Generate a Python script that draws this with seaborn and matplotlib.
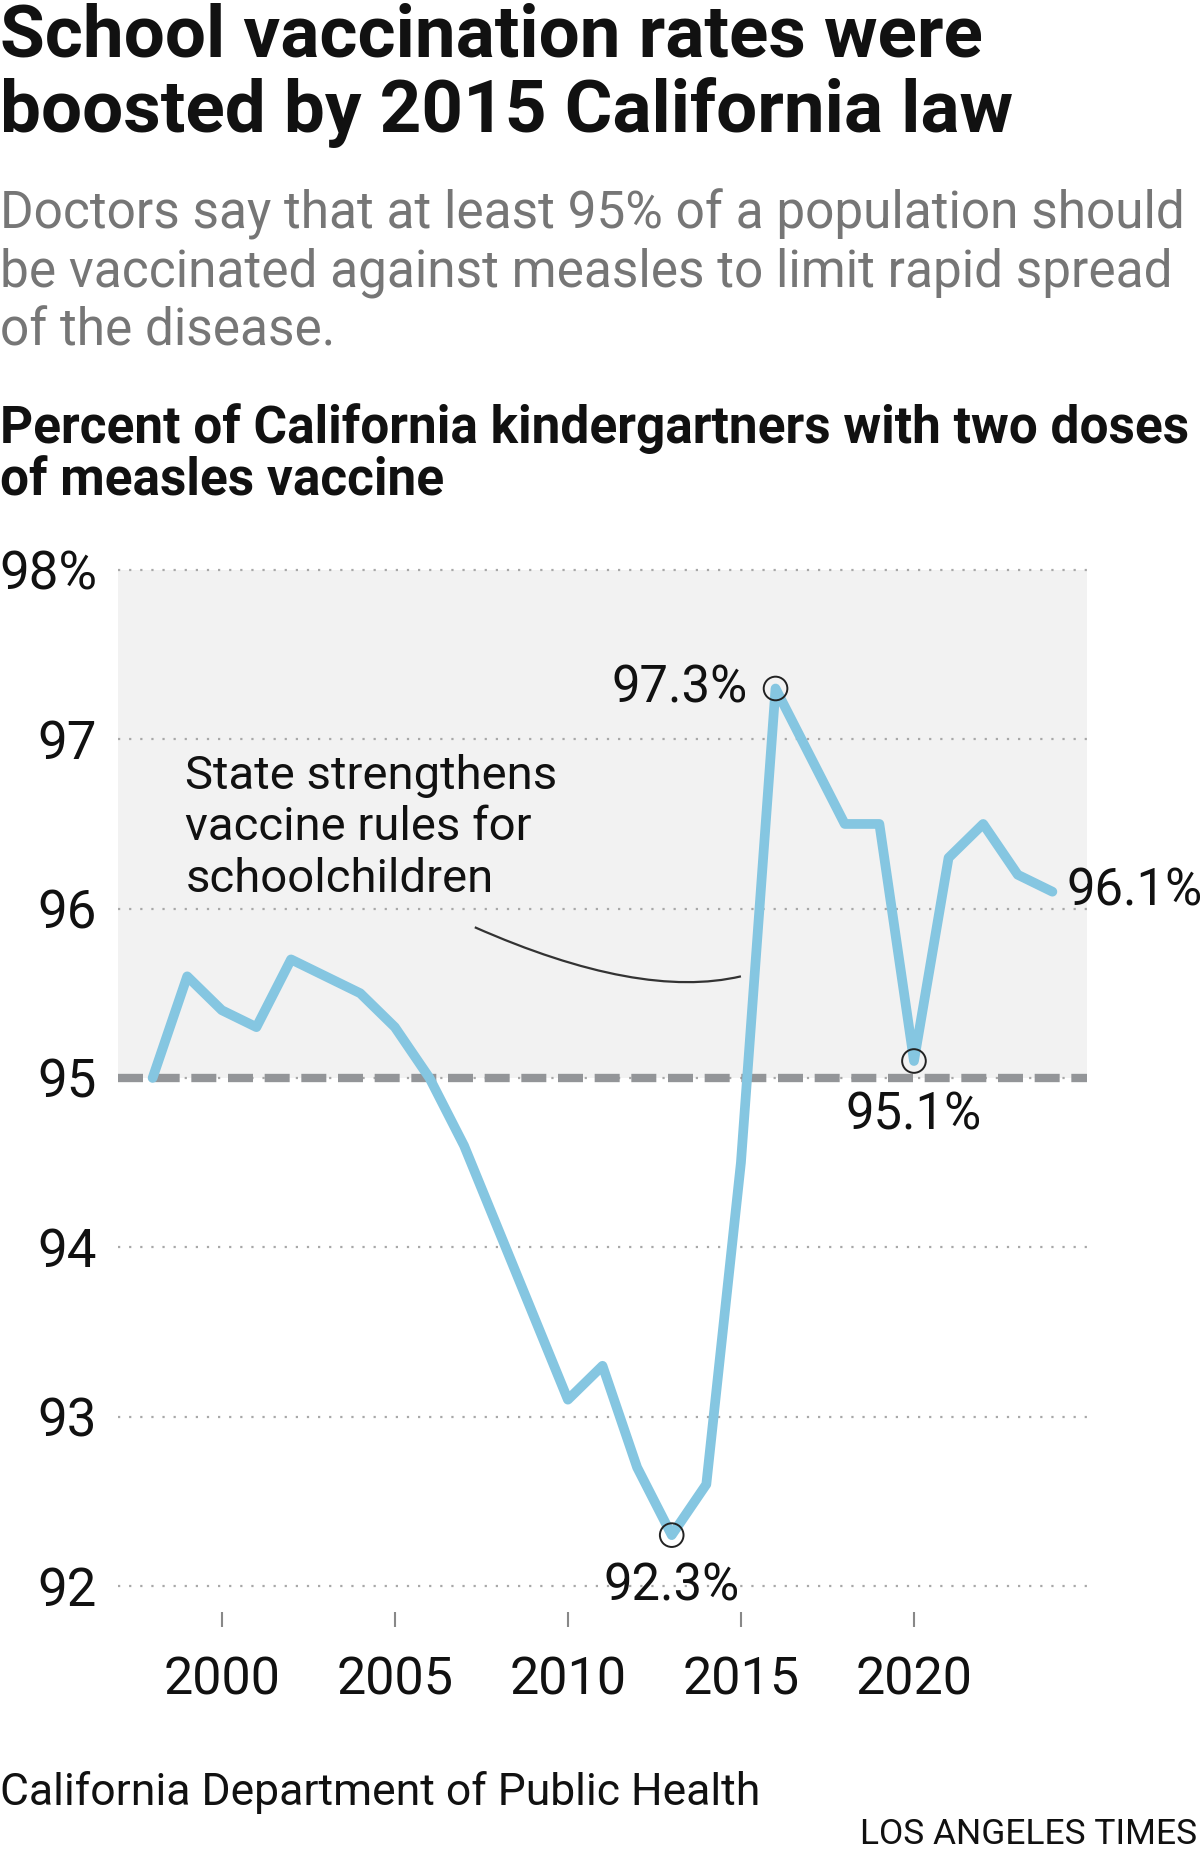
import numpy as np
import pandas as pd
import matplotlib
matplotlib.use("Agg")
from matplotlib import pyplot as plt
from matplotlib.path import Path
from matplotlib.patches import PathPatch
import seaborn as sns

# data
years = list(range(1998, 2025))
rates = [95.0, 95.6, 95.4, 95.3, 95.7, 95.6, 95.5, 95.3, 95.0, 94.6,
         94.1, 93.6, 93.1, 93.3, 92.7, 92.3, 92.6, 94.5, 97.3, 96.9,
         96.5, 96.5, 95.1, 96.3, 96.5, 96.2, 96.1]
highlight_years = [2013, 2016, 2020]
year_ticks = [2000, 2005, 2010, 2015, 2020]
pct_ticks = [92, 93, 94, 95, 96, 97, 98]
pct_labels = ["92", "93", "94", "95", "96", "97", "98%"]
threshold = 95

df = pd.DataFrame({"year": years, "rate": rates})
hl = df[df["year"].isin(highlight_years)]

sns.set_style("white")
plt.rcParams["font.family"] = ["Roboto", "DejaVu Sans"]

W, H = 1200, 1854
fig = plt.figure(figsize=(W / 100, H / 100), dpi=100)

# axes placed in pixel terms
left, right = 118, 1087
top, bottom = 561.5, 1612
ax = fig.add_axes([left / W, 1 - bottom / H, (right - left) / W, (bottom - top) / H])
ax.set_xlim(1997, 2025)
ax.set_ylim(91.846, 98.05)


def ftext(x, y, s, **kw):
    fig.text(x / W, 1 - y / H, s, **kw)


# shaded band above the 95% line
ax.axhspan(threshold, 98, color="#f2f2f2", lw=0, zorder=0)
ax.set_yticks(pct_ticks)
ax.set_yticklabels(pct_labels)
ax.grid(axis="y", ls=(0, (1, 4)), color="#a8a8a8", lw=1.6, zorder=1)
ax.grid(axis="x", visible=False)
ax.axhline(threshold, color="#939598", lw=6, dashes=(3.0, 1.4), zorder=2)

sns.lineplot(data=df, x="year", y="rate", color="#85c6e1", lw=7, ax=ax, zorder=3)
sns.scatterplot(data=hl, x="year", y="rate", s=290, facecolor="none",
                edgecolor="#222222", linewidth=1.4, ax=ax, zorder=4)

# value labels
lab_kw = dict(fontsize=36.5, color="#111111", textcoords="offset points")
ax.annotate("97.3%", (2016, 97.3), xytext=(-20, 0), ha="right", va="center", **lab_kw)
ax.annotate("95.1%", (2020, 95.1), xytext=(0, -39), ha="center", va="center", **lab_kw)
ax.annotate("92.3%", (2013, 92.3), xytext=(0, -37), ha="center", va="center", **lab_kw)
ax.annotate("96.1%", (2024, 96.1), xytext=(10, 0), ha="left", va="center", **lab_kw)

# note and its curved leader line
ax.text(1998.95, 96.48, "State strengthens\nvaccine rules for\nschoolchildren",
        fontsize=34, color="#111111", va="center", ha="left", linespacing=1.22)
curve = Path([(2007.31, 95.89), (2012.08, 95.46), (2015.0, 95.60)],
             [Path.MOVETO, Path.CURVE3, Path.CURVE3])
ax.add_patch(PathPatch(curve, fc="none", ec="#333333", lw=1.6, zorder=5))

ax.set_xticks(year_ticks)
ax.set_xlabel("")
ax.set_ylabel("")
ax.tick_params(axis="x", bottom=True, length=11, width=1.5, color="#888888",
               direction="out", pad=20, labelsize=37.5, labelcolor="#111111")
ax.tick_params(axis="y", length=0, pad=15, labelsize=38, labelcolor="#111111")
sns.despine(ax=ax, left=True, bottom=True)

# headline block
ftext(0, 37, "School vaccination rates were", fontsize=52.5, fontweight="bold",
      color="#111111", va="center")
ftext(0, 113, "boosted by 2015 California law", fontsize=52.5, fontweight="bold",
      color="#111111", va="center")
sub = ["Doctors say that at least 95% of a population should",
       "be vaccinated against measles to limit rapid spread",
       "of the disease."]
for i, line in enumerate(sub):
    ftext(0, 214 + 59 * i, line, fontsize=37, color="#767676", va="center")
ftext(0, 429, "Percent of California kindergartners with two doses",
      fontsize=37, fontweight="bold", color="#111111", va="center")
ftext(0, 482, "of measles vaccine", fontsize=37, fontweight="bold", color="#111111", va="center")

ftext(0, 1793, "California Department of Public Health", fontsize=32, color="#111111", va="center")
ftext(1197, 1835, "LOS ANGELES TIMES", fontsize=25.5, color="#111111", va="center", ha="right")

fig.savefig("out.png", dpi=100)
